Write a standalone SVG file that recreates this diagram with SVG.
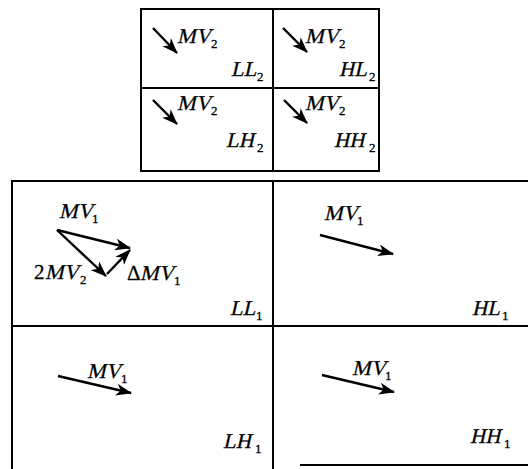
<svg xmlns="http://www.w3.org/2000/svg" width="528" height="469" viewBox="0 0 528 469">
<style>
.g{fill:none;stroke:#000;stroke-width:2}
text{font-family:'Liberation Serif','Times New Roman',serif;font-size:21px;fill:#000;stroke:#000;stroke-width:0.3}
.s{font-size:13px}
.a{fill:none;stroke:#000;stroke-width:2.4;marker-end:url(#ah)}
</style>
<defs>
<marker id="ah" markerUnits="userSpaceOnUse" markerWidth="16" markerHeight="12" refX="15" refY="6" orient="auto" viewBox="0 0 16 12">
<path d="M0,0 L16,6 L0,12 L4.5,6 Z" fill="#000"/>
</marker>
</defs>
<rect width="528" height="469" fill="#fff"/>
<g id="top-grid">
<g id="LL2"><rect class="g" x="141" y="9" width="132" height="79"/>
<text transform="translate(177,43) skewX(-13)">MV</text><text class="s" x="211" y="48">2</text>
<text transform="translate(231,76) skewX(-13)">LL</text><text class="s" x="257" y="81">2</text></g>
<g id="HL2"><rect class="g" x="273" y="9" width="106" height="79"/>
<text transform="translate(305,43) skewX(-13)">MV</text><text class="s" x="339" y="48">2</text>
<text transform="translate(339,76) skewX(-13)">HL</text><text class="s" x="369" y="81">2</text></g>
<g id="LH2"><rect class="g" x="141" y="88" width="132" height="83"/>
<text transform="translate(177,110) skewX(-13)">MV</text><text class="s" x="211" y="115">2</text>
<text transform="translate(226,147) skewX(-13)">LH</text><text class="s" x="257" y="152">2</text></g>
<g id="HH2"><rect class="g" x="273" y="88" width="106" height="83"/>
<text transform="translate(305,110) skewX(-13)">MV</text><text class="s" x="339" y="115">2</text>
<text transform="translate(334,147) skewX(-13)">HH</text><text class="s" x="369" y="152">2</text></g>
</g>
<g id="bottom-grid">
<g id="LL1"><path class="g" d="M12,469 V181 H273 V326 H12"/>
<text transform="translate(59,218) skewX(-13)">MV</text><text class="s" x="92" y="223">1</text>
<text x="34" y="279">2</text><text transform="translate(45,279) skewX(-13)">MV</text><text class="s" x="80" y="284">2</text>
<text x="127" y="280">Δ</text><text transform="translate(140,280) skewX(-13)">MV</text><text class="s" x="174" y="285">1</text>
<text transform="translate(230,315) skewX(-13)">LL</text><text class="s" x="256" y="320">1</text></g>
<g id="HL1"><path class="g" d="M273,181 H528 M273,326 H528"/>
<text transform="translate(324,220) skewX(-13)">MV</text><text class="s" x="357" y="225">1</text>
<text transform="translate(472,315) skewX(-13)">HL</text><text class="s" x="502" y="320">1</text></g>
<g id="LH1"><path class="g" d="M273,326 V469"/>
<text transform="translate(87,378) skewX(-13)">MV</text><text class="s" x="121" y="383">1</text>
<text transform="translate(223,448) skewX(-13)">LH</text><text class="s" x="255" y="453">1</text></g>
<g id="HH1"><path class="g" d="M300,465 H528"/>
<text transform="translate(352,375) skewX(-13)">MV</text><text class="s" x="385" y="380">1</text>
<text transform="translate(470,443) skewX(-13)">HH</text><text class="s" x="504" y="448">1</text></g>
</g>
<g id="connectors">
<line class="a" x1="153" y1="28" x2="177" y2="53"/>
<line class="a" x1="283" y1="28" x2="307" y2="52"/>
<line class="a" x1="153" y1="100" x2="177" y2="124"/>
<line class="a" x1="284" y1="100" x2="307" y2="123"/>
<line class="a" x1="57" y1="230" x2="130" y2="248"/>
<line class="a" x1="57" y1="230" x2="106" y2="276"/>
<line class="a" x1="107" y1="274" x2="130" y2="250"/>
<line class="a" x1="320" y1="235" x2="393" y2="254"/>
<line class="a" x1="58" y1="376" x2="131" y2="393"/>
<line class="a" x1="322" y1="375" x2="394" y2="392"/>
</g>
</svg>
